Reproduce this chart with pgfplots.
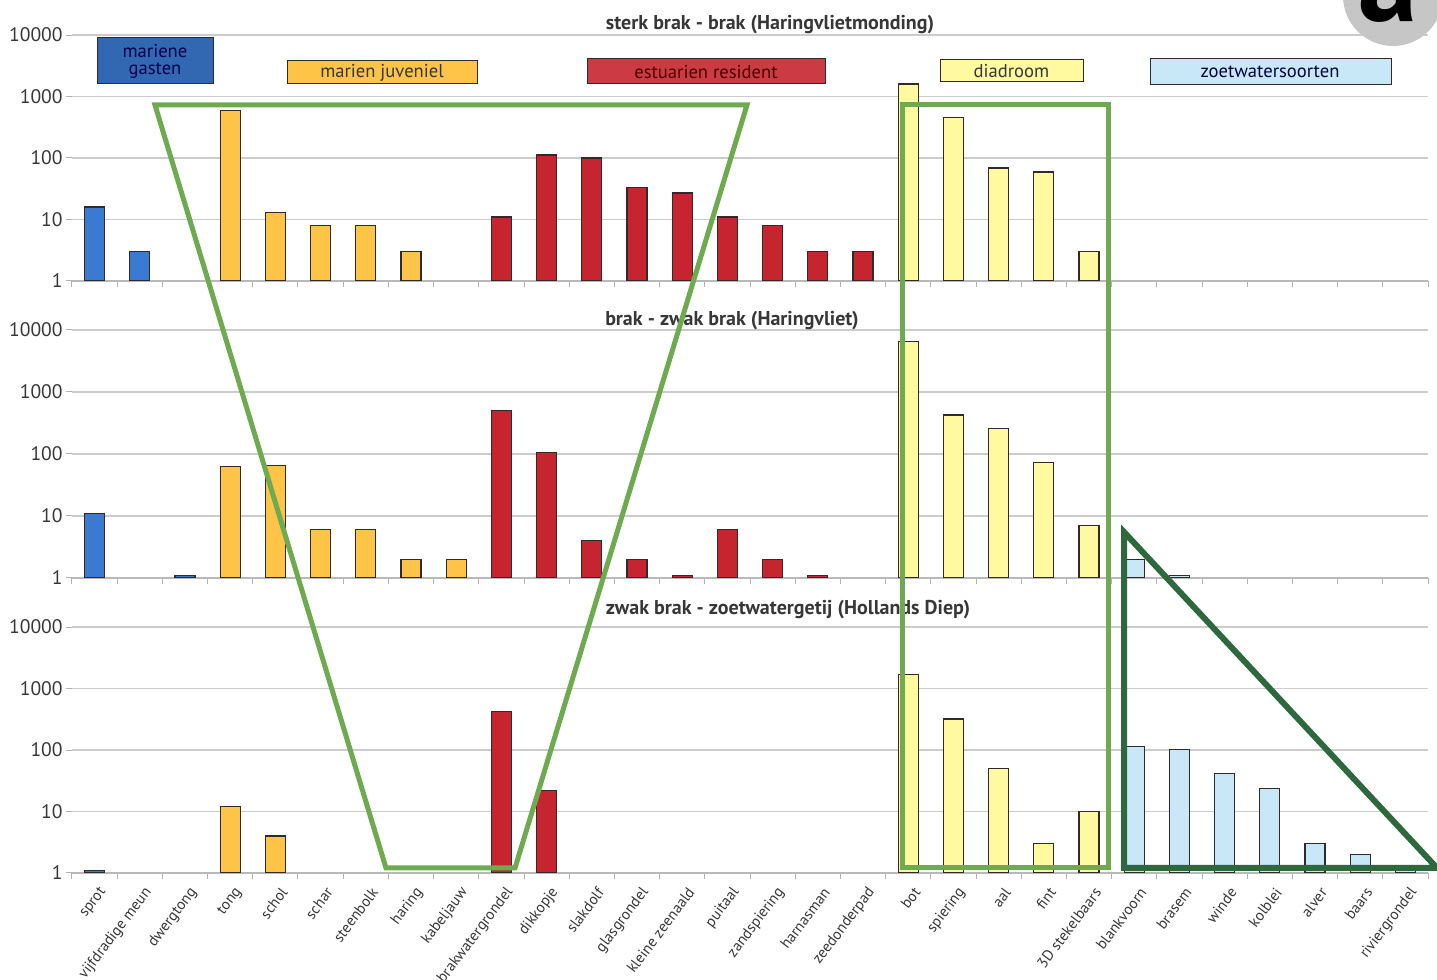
\documentclass[border=0pt]{standalone}
\usepackage{pgfplots}
\pgfplotsset{compat=1.18}
\usepackage{fontspec}
\setmainfont{PT Sans}
\definecolor{cBlue}{RGB}{58,122,208}
\definecolor{cOrange}{RGB}{253,196,72}
\definecolor{cRed}{RGB}{198,36,46}
\definecolor{cLYellow}{RGB}{255,250,160}
\definecolor{cLBlue}{RGB}{200,232,248}
\definecolor{cEdge}{RGB}{50,42,42}
\definecolor{cGreen}{RGB}{110,170,80}
\definecolor{cDGreen}{RGB}{45,105,60}
\definecolor{cText}{RGB}{55,55,55}
\pgfplotsset{
  panel/.style={
    scale only axis, width=678pt, height=123pt,
    xmin=-0.5, xmax=29.5, ymin=1, ymax=10000,
    enlargelimits=false,
    ytick={1,10,100,1000,10000}, yticklabels={1,10,100,1000,10000},
    yminorticks=false,
    ymajorgrids, grid style={gray!40, line width=0.6pt},
    axis x line*=bottom, axis y line*=left,
    y axis line style={draw=none},
    x axis line style={gray!55, line width=0.6pt},
    xtick={0,...,29}, major x tick style={draw=none},
    minor xtick={-0.5,0.5,...,29.5},
    minor x tick style={gray!60, line width=0.5pt},
    minor tick length=3pt,
    major y tick style={gray!60, line width=0.5pt}, major tick length=3pt,
    tick align=outside,
    yticklabel style={font=\fontsize{9.8}{12}\selectfont, text=cText, inner xsep=1.5pt},
    anchor=south west,
  },
}
\begin{document}
\begin{tikzpicture}[x=1pt,y=1pt]
\useasboundingbox (0,0) rectangle (718.5,490);
% ---------- panel 1
\begin{axis}[ymode=log, panel, at={(36pt,349.5pt)}, xticklabels={}, ybar, bar width=10pt, bar shift=0pt]
\addplot[fill=cBlue, draw=cEdge, line width=0.6pt] coordinates {(0,16) (1,3)};
\addplot[fill=cOrange, draw=cEdge, line width=0.6pt] coordinates {(3,600) (4,13) (5,8) (6,8) (7,3)};
\addplot[fill=cRed, draw=cEdge, line width=0.6pt] coordinates {(9,11) (10,112) (11,100) (12,33) (13,27) (14,11) (15,8) (16,3) (17,3)};
\addplot[fill=cLYellow, draw=cEdge, line width=0.6pt] coordinates {(18,1600) (19,460) (20,69) (21,59) (22,3)};
\end{axis}
% ---------- panel 2
\begin{axis}[ymode=log, panel, at={(36pt,201pt)}, height=124pt, xticklabels={}, ybar, bar width=10pt, bar shift=0pt]
\addplot[fill=cBlue, draw=cEdge, line width=0.6pt] coordinates {(0,11) (2,1.1)};
\addplot[fill=cOrange, draw=cEdge, line width=0.6pt] coordinates {(3,63) (4,65) (5,6) (6,6) (7,2) (8,2)};
\addplot[fill=cRed, draw=cEdge, line width=0.6pt] coordinates {(9,510) (10,107) (11,4) (12,2) (13,1.1) (14,6) (15,2) (16,1.1)};
\addplot[fill=cLYellow, draw=cEdge, line width=0.6pt] coordinates {(18,6600) (19,425) (20,255) (21,72) (22,7)};
\addplot[fill=cLBlue, draw=cEdge, line width=0.6pt] coordinates {(23,2) (24,1.1)};
\end{axis}
% ---------- panel 3
\begin{axis}[ymode=log, panel, at={(36pt,53.5pt)},
  xticklabels={sprot,vijfdradige meun,dwergtong,tong,schol,schar,steenbolk,haring,kabeljauw,brakwatergrondel,dikkopje,slakdolf,glasgrondel,kleine zeenaald,puitaal,zandspiering,harnasman,zeedonderpad,bot,spiering,aal,fint,3D stekelbaars,blankvoorn,brasem,winde,kolblei,alver,baars,riviergrondel},
  xticklabel style={xshift=6.5pt, yshift=-2.5pt, rotate=53, anchor=east, font=\fontsize{7.6}{9}\selectfont, text=cText},
  ybar, bar width=10pt, bar shift=0pt]
\addplot[fill=cBlue, draw=cEdge, line width=0.6pt] coordinates {(0,1.1)};
\addplot[fill=cOrange, draw=cEdge, line width=0.6pt] coordinates {(3,12) (4,4)};
\addplot[fill=cRed, draw=cEdge, line width=0.6pt] coordinates {(9,420) (10,22)};
\addplot[fill=cLYellow, draw=cEdge, line width=0.6pt] coordinates {(18,1700) (19,320) (20,50) (21,3) (22,10)};
\addplot[fill=cLBlue, draw=cEdge, line width=0.6pt] coordinates {(23,115) (24,103) (25,42) (26,24) (27,3) (28,2) (29,1.1)};
\end{axis}
% ---------- titles
\node[font=\bfseries\fontsize{10}{12}\selectfont, text=cText] at (385,477.5) {sterk brak - brak (Haringvlietmonding)};
\node[font=\bfseries\fontsize{10}{12}\selectfont, text=cText] at (366,329.5) {brak - zwak brak (Haringvliet)};
\node[font=\bfseries\fontsize{10}{12}\selectfont, text=cText] at (394,185) {zwak brak - zoetwatergetij (Hollands Diep)};
% ---------- group boxes
\begin{scope}[font=\fontsize{9.3}{8.5}\selectfont]
\draw[fill=cBlue!85!black, draw=cEdge, line width=0.5pt] (48.5,448) rectangle (106.5,471);
\node[align=center, text=black!70!blue] at (77.5,459.5) {mariene\\gasten};
\draw[fill=cOrange, draw=cEdge, line width=0.5pt] (143.5,448) rectangle (238.5,459.5);
\node[text=cText] at (191,453.7) {marien juveniel};
\draw[fill=cRed!90!white, draw=cEdge, line width=0.5pt] (293.5,448) rectangle (412.5,460.5);
\node[text=black!70!red] at (353,454.2) {estuarien resident};
\draw[fill=cLYellow, draw=cEdge, line width=0.5pt] (470,449) rectangle (541.5,460);
\node[text=cText] at (505.7,454.5) {diadroom};
\draw[fill=cLBlue, draw=cEdge, line width=0.5pt] (575,447.5) rectangle (695.5,460.5);
\node[text=black!75!blue] at (635,454) {zoetwatersoorten};
\end{scope}
% ---------- overlays
\draw[cGreen, line width=2.5pt, line join=miter] (77.5,437.5) -- (373.5,437.5) -- (257.5,56) -- (193,56) -- cycle;
\draw[cGreen, line width=2.5pt] (451,437.5) rectangle (554,56);
\draw[cDGreen, line width=3pt, line join=miter] (562,224) -- (562,56) -- (718.5,56) -- cycle;
% ---------- corner marker
\fill[gray!45] (696.5,492) circle (25);
\node[anchor=base, font=\bfseries\fontsize{60}{60}\selectfont] at (694,479) {a};
\end{tikzpicture}
\end{document}
